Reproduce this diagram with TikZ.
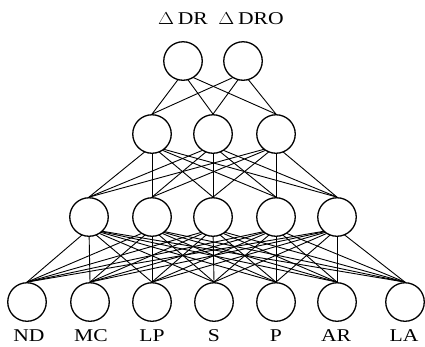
\documentclass[tikz,border=0pt]{standalone}
\usepackage{fontspec}
\setmainfont{Liberation Serif}
\usetikzlibrary{backgrounds}
\begin{document}
\begin{tikzpicture}[x=1pt,y=-1pt,
  neuron/.style={circle,draw,line width=1.3pt,fill=white,minimum size=38.5pt,inner sep=0pt},
  lab/.style={font=\fontsize{18}{18}\selectfont,inner sep=0pt},
  link/.style={line width=0.9pt}]
\useasboundingbox (0,0) rectangle (425,346);
% output layer
\node[neuron] (t1) at (183,61) {};
\node[neuron] (t2) at (243,61) {};
\node[lab] (lt1) at (183,19) {\scalebox{1.2}[1]{$\Delta$\,DR}};
\node[lab] (lt2) at (251,19) {\scalebox{1.2}[1]{$\Delta$\,DRO}};
% hidden layer 2
\node[neuron] (h1) at (152,134) {};
\node[neuron] (h2) at (213,134) {};
\node[neuron] (h3) at (276,134) {};
% hidden layer 1
\node[neuron] (g1) at (89,217) {};
\node[neuron] (g2) at (152,217) {};
\node[neuron] (g3) at (213,217) {};
\node[neuron] (g4) at (276,217) {};
\node[neuron] (g5) at (337,217) {};
% input layer
\node[neuron] (i1) at (27,302) {};
\node[neuron] (i2) at (90,302) {};
\node[neuron] (i3) at (152,302) {};
\node[neuron] (i4) at (214,302) {};
\node[neuron] (i5) at (276,302) {};
\node[neuron] (i6) at (337,302) {};
\node[neuron] (i7) at (405,302) {};
\node[lab] (l1) at (29,335.5) {\scalebox{1.2}[1]{ND}};
\node[lab] (l2) at (91,335.5) {\scalebox{1.2}[1]{MC}};
\node[lab] (l3) at (152,335.5) {\scalebox{1.2}[1]{LP}};
\node[lab] (l4) at (214,335.5) {\scalebox{1.2}[1]{S}};
\node[lab] (l5) at (276,335.5) {\scalebox{1.2}[1]{P}};
\node[lab] (l6) at (336,335.5) {\scalebox{1.2}[1]{AR}};
\node[lab] (l7) at (404,335.5) {\scalebox{1.2}[1]{LA}};
\begin{pgfonlayer}{background}
\foreach \a in {t1,t2}
  \foreach \b in {h1,h2,h3}
    \draw[link] ([yshift=-12pt]\a.center) -- (\b.north);
\foreach \a in {h1,h2,h3}
  \foreach \b in {g1,g2,g3,g4,g5}
    \draw[link] ([yshift=-12pt]\a.center) -- (\b.north);
\foreach \a in {g1,g2,g3,g4,g5}
  \foreach \b in {i1,i2,i3,i4,i5,i6,i7}
    \draw[link] ([yshift=-12pt]\a.center) -- (\b.north);
\end{pgfonlayer}
\end{tikzpicture}
\end{document}
